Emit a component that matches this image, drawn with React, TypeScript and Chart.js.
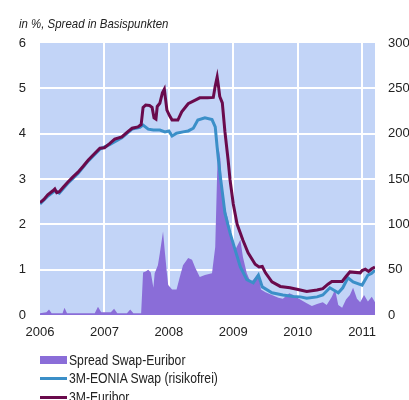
import React, { useEffect, useRef } from "react";
import { Chart, registerables } from "chart.js";

Chart.register(...registerables);

const yearTicks = [2006, 2007, 2008, 2009, 2010, 2011];
const leftTicks = [0, 1, 2, 3, 4, 5, 6];
const rightTicks = [0, 50, 100, 150, 200, 250, 300];

const euriborDates = [
  2006.0, 2006.06, 2006.12, 2006.2, 2006.23, 2006.26, 2006.3, 2006.36, 2006.43, 2006.5,
  2006.59, 2006.67, 2006.75, 2006.84, 2006.93, 2007.0, 2007.08, 2007.16, 2007.27, 2007.35,
  2007.43, 2007.52, 2007.57, 2007.6, 2007.64, 2007.7, 2007.74, 2007.77, 2007.8, 2007.82,
  2007.86, 2007.9, 2007.93, 2007.97, 2008.01, 2008.05, 2008.14, 2008.2, 2008.3, 2008.41,
  2008.48, 2008.6, 2008.69, 2008.72, 2008.75, 2008.77, 2008.79, 2008.83, 2008.87, 2008.92,
  2008.95, 2009.0, 2009.06, 2009.15, 2009.23, 2009.34, 2009.4, 2009.45, 2009.5, 2009.6,
  2009.73, 2009.88, 2010.04, 2010.14, 2010.3, 2010.39, 2010.47, 2010.53, 2010.69, 2010.75,
  2010.81, 2010.97, 2011.0, 2011.05, 2011.1, 2011.15, 2011.2,
];
const euriborValues = [
  2.48, 2.55, 2.65, 2.74, 2.78, 2.7, 2.72, 2.82, 2.93, 3.03,
  3.15, 3.28, 3.42, 3.55, 3.68, 3.69, 3.78, 3.88, 3.93, 4.03,
  4.12, 4.15, 4.2, 4.58, 4.63, 4.62, 4.58, 4.35, 4.32, 4.6,
  4.67, 4.9, 4.98, 4.52, 4.4, 4.3, 4.3, 4.48, 4.66, 4.74,
  4.79, 4.79, 4.8, 5.05, 5.25, 5.05, 4.82, 4.68, 4.05, 3.42,
  2.98, 2.45, 2.0, 1.65, 1.37, 1.12, 1.06, 1.07, 0.93, 0.73,
  0.63, 0.6, 0.55, 0.52, 0.55, 0.58, 0.68, 0.74, 0.74, 0.85,
  0.95, 0.93, 0.98, 1.01, 0.96, 1.02, 1.06,
];

const eoniaDates = [
  2006.0, 2006.12, 2006.23, 2006.3, 2006.43, 2006.59, 2006.75, 2006.93, 2007.08, 2007.27,
  2007.43, 2007.55, 2007.6, 2007.68, 2007.76, 2007.86, 2007.94, 2008.0, 2008.05, 2008.12,
  2008.22, 2008.3, 2008.38, 2008.45, 2008.56, 2008.67, 2008.72, 2008.75, 2008.77, 2008.8,
  2008.84, 2008.87, 2008.95, 2009.03, 2009.11, 2009.21, 2009.31, 2009.39, 2009.45, 2009.6,
  2009.77, 2009.93, 2010.04, 2010.14, 2010.3, 2010.39, 2010.5, 2010.63, 2010.7, 2010.78,
  2010.86, 2011.0, 2011.09, 2011.15, 2011.2,
];
const eoniaValues = [
  2.45, 2.62, 2.74, 2.69, 2.9, 3.12, 3.4, 3.66, 3.76, 3.91,
  4.1, 4.14, 4.19, 4.1, 4.08, 4.08, 4.04, 4.06, 3.95, 4.01,
  4.04, 4.06, 4.12, 4.3, 4.35, 4.31, 4.15, 3.7, 3.42, 3.04,
  2.6, 2.25, 1.81, 1.43, 1.06, 0.78, 0.71, 0.88, 0.62, 0.49,
  0.44, 0.41, 0.4, 0.37, 0.4, 0.44, 0.6, 0.49, 0.6, 0.82,
  0.73, 0.66, 0.88, 0.92, 0.99,
];

const spreadDates = [
  2006.0, 2006.1, 2006.14, 2006.18, 2006.35, 2006.38, 2006.42, 2006.85, 2006.9, 2006.95,
  2007.1, 2007.15, 2007.2, 2007.35, 2007.4, 2007.45, 2007.57, 2007.6, 2007.64, 2007.68,
  2007.72, 2007.76, 2007.78, 2007.83, 2007.86, 2007.91, 2007.94, 2007.97, 2007.99, 2008.05,
  2008.12, 2008.17, 2008.22, 2008.3, 2008.36, 2008.41, 2008.48, 2008.56, 2008.67, 2008.72,
  2008.75, 2008.77, 2008.8, 2008.83, 2008.87, 2008.92, 2008.97, 2009.03, 2009.11, 2009.15,
  2009.21, 2009.27, 2009.31, 2009.39, 2009.43, 2009.5, 2009.6, 2009.7, 2009.77, 2009.87,
  2009.93, 2010.04, 2010.14, 2010.22, 2010.3, 2010.39, 2010.45, 2010.53, 2010.58, 2010.63,
  2010.69, 2010.75, 2010.81, 2010.86, 2010.92, 2010.97, 2011.03, 2011.09, 2011.15, 2011.2,
];
const spreadValues = [
  2, 3, 6, 2, 2, 8, 2, 2, 9, 3,
  3, 7, 2, 2, 6, 2, 2, 47, 48, 50,
  47, 30, 46, 55, 68, 92, 68, 46, 33, 28,
  28, 42, 55, 63, 61, 52, 42, 44, 46, 75,
  157, 185, 172, 130, 119, 105, 83, 72, 83, 64,
  46, 36, 39, 46, 28, 25, 22, 19, 18, 24,
  22, 17, 13, 10, 12, 14, 11, 20, 28, 11,
  8, 17, 22, 30, 18, 14, 22, 15, 20, 14,
];

const labels = {
  subtitle: "in %, Spread in Basispunkten",
  spread: "Spread Swap-Euribor",
  eonia: "3M-EONIA Swap (risikofrei)",
  euribor: "3M-Euribor",
};

const FONT = "'Liberation Sans', Arial, sans-serif";
const BG = "#c2d4f7";
const PURPLE_FILL = "#8a6dd8";
const BLUE = "#3b8fc8";
const PLUM = "#6a0a4c";

const zip = (xs: number[], ys: number[]) => xs.map((x, i) => ({ x, y: ys[i] }));

const bgPlugin = {
  id: "plotBg",
  beforeDraw(chart: any) {
    const { ctx, chartArea } = chart;
    ctx.save();
    ctx.fillStyle = BG;
    ctx.fillRect(chartArea.left, chartArea.top, chartArea.right - chartArea.left, chartArea.bottom - chartArea.top);
    ctx.restore();
  },
};

export default function App() {
  const ref = useRef<HTMLCanvasElement>(null);

  useEffect(() => {
    if (!ref.current) return;
    const chart = new Chart(ref.current, {
      type: "line",
      data: {
        datasets: [
          {
            label: labels.euribor,
            data: zip(euriborDates, euriborValues),
            borderColor: PLUM,
            borderWidth: 3,
            pointRadius: 0,
            tension: 0,
            yAxisID: "y",
          },
          {
            label: labels.eonia,
            data: zip(eoniaDates, eoniaValues),
            borderColor: BLUE,
            borderWidth: 3,
            pointRadius: 0,
            tension: 0,
            yAxisID: "y",
          },
          {
            label: labels.spread,
            data: zip(spreadDates, spreadValues),
            borderWidth: 0,
            borderColor: PURPLE_FILL,
            backgroundColor: PURPLE_FILL,
            fill: "origin",
            pointRadius: 0,
            tension: 0,
            yAxisID: "y1",
          },
        ],
      },
      options: {
        responsive: false,
        animation: false,
        devicePixelRatio: 1,
        layout: { padding: { top: 43, left: 0, right: 0, bottom: 0 } },
        plugins: { legend: { display: false }, tooltip: { enabled: false } },
        scales: {
          x: {
            type: "linear",
            min: 2006,
            max: 2011.2,
            afterBuildTicks: (s: any) => {
              s.ticks = yearTicks.map((v) => ({ value: v }));
            },
            afterFit: (s: any) => {
              s.height = 85;
            },
            ticks: {
              padding: 10,
              color: "#222",
              font: { family: FONT, size: 13 },
              callback: (v: any) => String(v),
              maxRotation: 0,
            },
            grid: {
              drawTicks: false,
              lineWidth: 2,
              color: (c: any) => (c.tick && c.tick.value === 2006 ? "rgba(0,0,0,0)" : "#ffffff"),
            },
            border: { display: false },
          },
          y: {
            position: "left",
            min: 0,
            max: 6,
            afterBuildTicks: (s: any) => {
              s.ticks = leftTicks.map((v) => ({ value: v }));
            },
            afterFit: (s: any) => {
              s.width = 40;
            },
            ticks: {
              padding: 14,
              color: "#222",
              font: { family: FONT, size: 13 },
            },
            grid: {
              drawTicks: false,
              lineWidth: 2,
              color: (c: any) =>
                c.tick && (c.tick.value === 0 || c.tick.value === 6) ? "rgba(0,0,0,0)" : "#ffffff",
            },
            border: { display: false },
          },
          y1: {
            position: "right",
            min: 0,
            max: 300,
            afterBuildTicks: (s: any) => {
              s.ticks = rightTicks.map((v) => ({ value: v }));
            },
            afterFit: (s: any) => {
              s.width = 34;
            },
            ticks: {
              padding: 13,
              color: "#222",
              font: { family: FONT, size: 13 },
            },
            grid: { display: false, drawTicks: false },
            border: { display: false },
          },
        },
      },
      plugins: [bgPlugin],
    } as any);
    return () => chart.destroy();
  }, []);

  const legendRow = (top: number, kind: "box" | "line", color: string, text: string) => (
    <div
      style={{
        position: "absolute",
        left: 40,
        top,
        height: 18,
        display: "flex",
        alignItems: "center",
        fontFamily: FONT,
        fontSize: 14,
        color: "#222",
        whiteSpace: "nowrap",
      }}
    >
      <span
        style={{
          display: "inline-block",
          width: 27,
          height: kind === "box" ? 8 : 3,
          background: color,
          marginRight: 2,
        }}
      />
      <span style={{ display: "inline-block", transform: "scaleX(0.87)", transformOrigin: "left center" }}>
        {text}
      </span>
    </div>
  );

  return (
    <div
      style={{
        position: "fixed",
        left: 0,
        top: 0,
        width: 409,
        height: 400,
        background: "#fff",
        overflow: "hidden",
      }}
    >
      <canvas ref={ref} width={409} height={400} style={{ position: "absolute", left: 0, top: 0 }} />
      <div
        style={{
          position: "absolute",
          left: 19,
          top: 16,
          fontFamily: FONT,
          fontStyle: "italic",
          fontSize: 13,
          color: "#222",
          whiteSpace: "nowrap",
          transform: "scaleX(0.88)",
          transformOrigin: "left center",
        }}
      >
        {labels.subtitle}
      </div>
      {legendRow(351, "box", PURPLE_FILL, labels.spread)}
      {legendRow(369, "line", BLUE, labels.eonia)}
      {legendRow(388, "line", PLUM, labels.euribor)}
    </div>
  );
}
